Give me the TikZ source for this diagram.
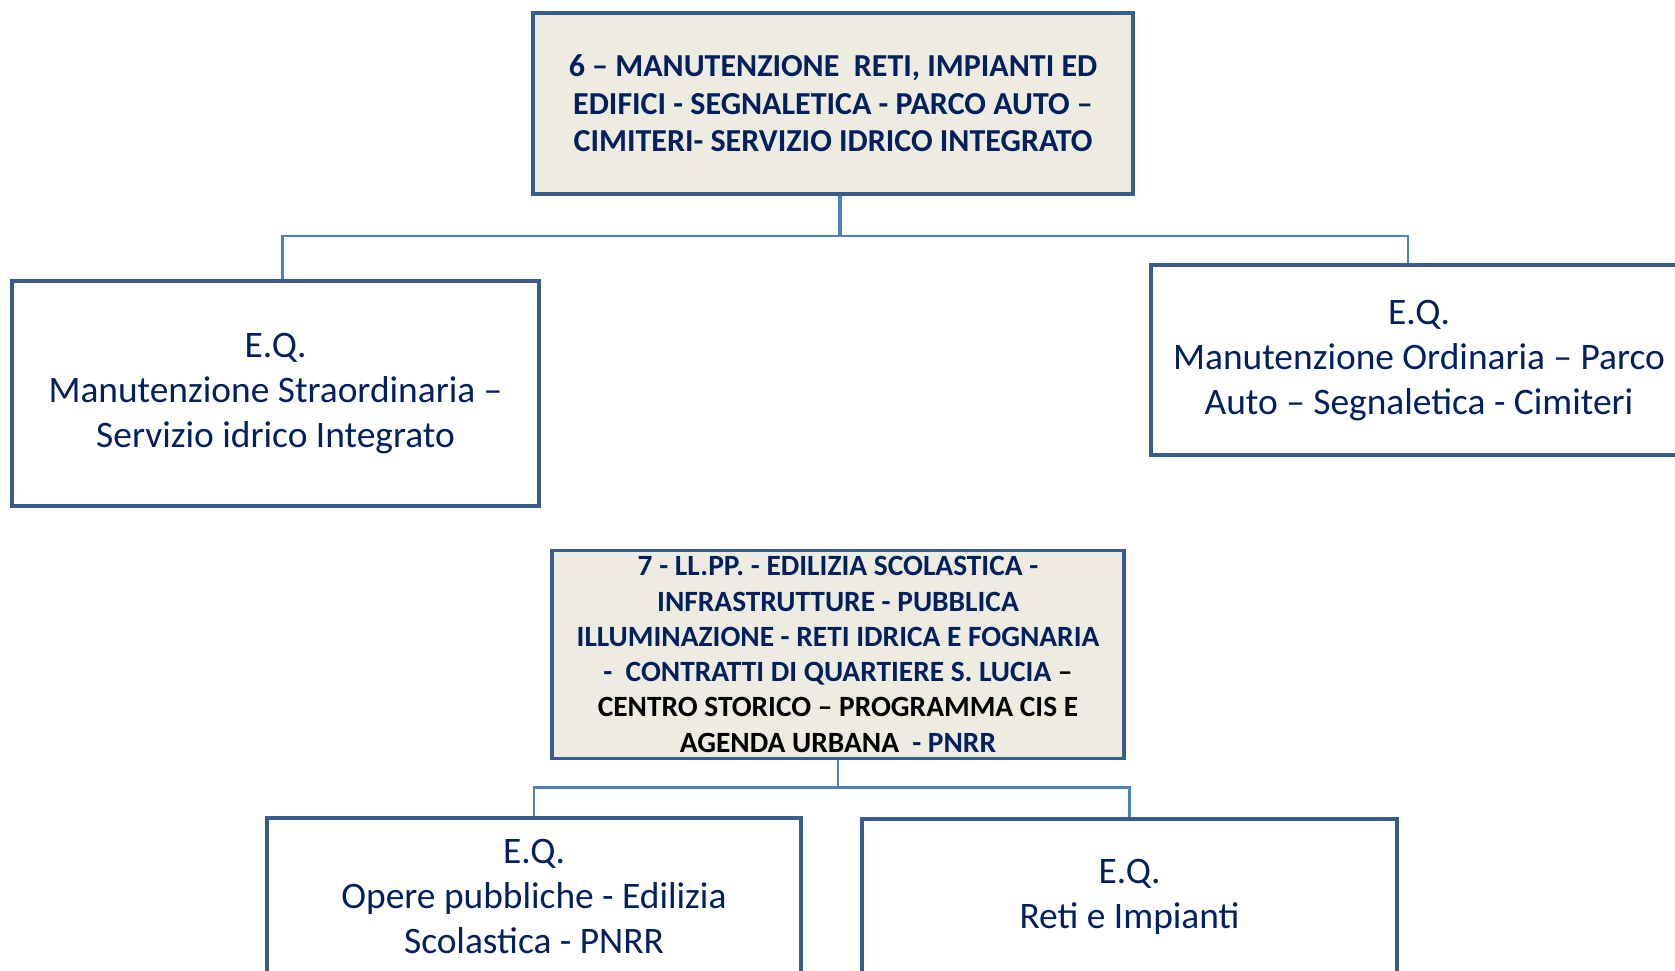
\documentclass[tikz,border=0pt]{standalone}
\usepackage{fontspec}
\setmainfont{Carlito}
\usepackage{xcolor}
\usepackage{tikz}

\definecolor{navy}{HTML}{002060}
\definecolor{boxline}{HTML}{385D8A}
\definecolor{linkblue}{HTML}{4F81BD}
\definecolor{tanfill}{HTML}{EEECE1}

\begin{document}
\begin{tikzpicture}[
    x=1pt,
    y=-1pt,
    head_style/.style={
        draw=boxline,
        line width=3.5pt,
        fill=tanfill,
        align=center,
        text=navy,
        inner sep=0pt
    },
    eq_style/.style={
        draw=boxline,
        line width=3.5pt,
        fill=white,
        align=center,
        text=navy,
        inner sep=0pt,
        font=\fontsize{37.4}{45}\selectfont
    },
    edge_style/.style={
        draw=linkblue,
        line width=2.5pt
    }
]
\useasboundingbox (0,0) rectangle (1675,971);

% --- Nodes ---
\node[head_style, minimum width=600, minimum height=181,
      font=\fontsize{32}{37.4}\selectfont\bfseries] (area6) at (833,103.5)
    {6 -- MANUTENZIONE\ \ RETI, IMPIANTI ED\\
     EDIFICI - SEGNALETICA - PARCO AUTO --\\
     CIMITERI- SERVIZIO IDRICO INTEGRATO};

% text sits a little low in the E.Q. boxes
\node[eq_style, minimum width=527, minimum height=225, text depth=6pt] (straord) at (275.5,393.5)
    {E.Q.\\ Manutenzione Straordinaria --\\ Servizio idrico Integrato};

% right box runs past the page edge
\node[eq_style, minimum width=536, minimum height=190, text depth=6pt] (ordin) at (1419,360)
    {E.Q.\\ Manutenzione Ordinaria -- Parco\\ Auto -- Segnaletica - Cimiteri};

\node[head_style, minimum width=572, minimum height=208,
      font=\fontsize{29.4}{35.3}\selectfont\bfseries] (area7) at (838,654.5)
    {7 - LL.PP. - EDILIZIA SCOLASTICA -\\
     INFRASTRUTTURE - PUBBLICA\\
     ILLUMINAZIONE - RETI IDRICA E FOGNARIA\\
     -\ \ CONTRATTI DI QUARTIERE S. LUCIA \textcolor{black}{--}\\
     \textcolor{black}{CENTRO STORICO -- PROGRAMMA CIS E}\\
     \textcolor{black}{AGENDA URBANA}\ \ - PNRR};

% bottom boxes are cut by the page
\node[eq_style, minimum width=534, minimum height=156] (opere) at (534,896)
    {E.Q.\\ Opere pubbliche - Edilizia\\ Scolastica - PNRR};
\node[eq_style, minimum width=535, minimum height=156] (reti) at (1129.5,897)
    {E.Q.\\ Reti e Impianti};

% --- Edges ---
\draw[edge_style, line width=3.5pt] ([xshift=7]area6.south) -- ++(0,40) coordinate (bus6);
\draw[edge_style] (bus6) -| ([xshift=7]straord.north);
\draw[edge_style, line width=1.5pt] (bus6) -| ([xshift=-11]ordin.north);

\draw[edge_style] (area7.south) -- ++(0,27) coordinate (bus7);
\draw[edge_style] (bus7) -| (opere.north);
\draw[edge_style] (bus7) -| (reti.north);

\end{tikzpicture}
\end{document}
